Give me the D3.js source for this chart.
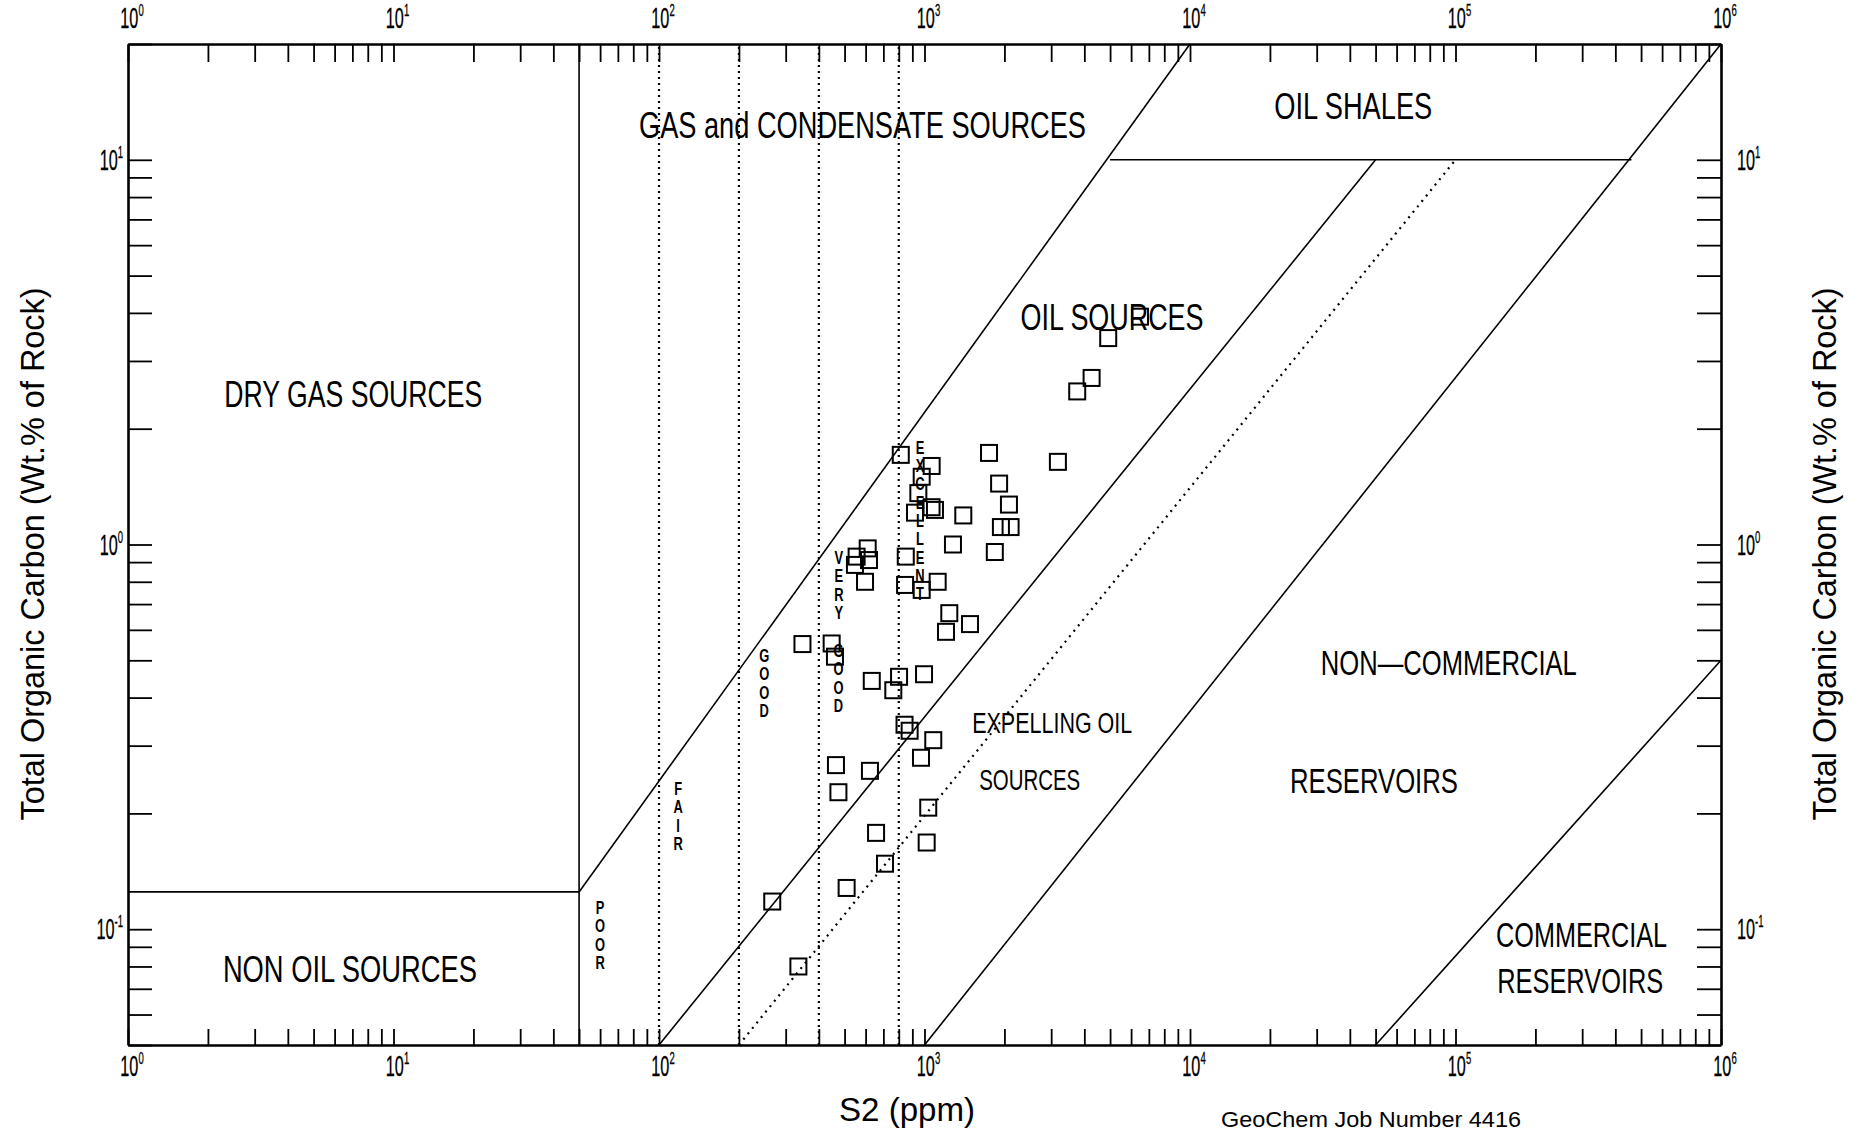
<!DOCTYPE html>
<html>
<head>
<meta charset="utf-8">
<script src="https://cdn.jsdelivr.net/npm/d3@7"></script>
<style>
  html, body { margin: 0; padding: 0; background: #fff; }
  svg { display: block; }
  text { font-family: "Liberation Sans", Arial, sans-serif; fill: #000; }
</style>
</head>
<body>
<svg id="chart" width="1859" height="1136"></svg>
<script>
// ---- Sample data: Rock-Eval S2 (ppm) and total organic carbon (wt.%) ----
const sampleS2 = [6480, 4920, 4260, 3760, 1750, 3180, 1910, 2080, 1400, 1940,
                  2110, 1840, 1280, 814, 1064, 976, 948, 1063, 1095, 921,
                  611, 618, 555, 547, 850, 597, 845, 1121, 976, 1240,
                  1484, 1205, 347, 447, 460, 633, 802, 996, 763, 841,
                  879, 1079, 970, 464, 623, 474, 1033, 657, 1019, 710,
                  509, 267, 335];
const sampleTOC = [3.91, 3.44, 2.71, 2.50, 1.73, 1.64, 1.44, 1.27, 1.19, 1.11,
                   1.11, 0.956, 1.00, 1.71, 1.60, 1.50, 1.36, 1.25, 1.23, 1.21,
                   0.977, 0.911, 0.930, 0.885, 0.930, 0.800, 0.785, 0.800, 0.762, 0.663,
                   0.621, 0.593, 0.551, 0.553, 0.511, 0.442, 0.453, 0.460, 0.418, 0.340,
                   0.328, 0.310, 0.279, 0.267, 0.258, 0.227, 0.207, 0.178, 0.168, 0.148,
                   0.128, 0.118, 0.080];

// ---- Axes ----
const s2Domain = [1, 1e6];
const tocDomain = [0.05, 20];
const s2Decades = [1, 10, 100, 1e3, 1e4, 1e5, 1e6];
const s2DecadeExp = ["0", "1", "2", "3", "4", "5", "6"];
const tocDecades = [0.1, 1, 10];
const tocDecadeExp = ["-1", "0", "1"];

// ---- Interpretive zone boundaries, as [S2, TOC] end points ----
const solidBoundaries = [
  [[50, 0.05], [50, 20]],          // gas / oil source cut-off
  [[1, 0.125], [50, 0.125]],       // dry gas vs non oil sources
  [[50, 0.125], [1e4, 20]],        // upper limit of oil sources
  [[100, 0.05], [5e4, 10]],        // onset of expulsion
  [[1000, 0.05], [1e6, 20]],       // non-commercial reservoirs
  [[5e4, 0.05], [1e6, 0.5]],       // commercial reservoirs
  [[5000, 10], [460000, 10]]       // base of oil shales
];
const dottedBoundaries = [
  [[200, 0.05], [1e5, 10]]
];
// source quality class limits (S2, ppm): poor | fair | good | very good | excellent
const qualityCuts = [100, 200, 400, 800];

// ---- Zone names, anchored at [S2, TOC] (centre, baseline) ----
const zoneNames = ["GAS and CONDENSATE SOURCES", "OIL SHALES", "OIL SOURCES",
                   "DRY GAS SOURCES", "NON OIL SOURCES", "EXPELLING OIL", "SOURCES",
                   "NON\u2014COMMERCIAL", "RESERVOIRS", "COMMERCIAL", "RESERVOIRS"];
const zoneS2 = [584, 41200, 5085, 7.06, 6.85, 3027, 2490, 94400, 49300, 298500, 295000];
const zoneTOC = [11.4, 12.8, 3.62, 2.28, 0.073, 0.324, 0.2307, 0.459, 0.2257, 0.0897, 0.0681];
// type size and set width of each zone name
const zoneFont = [36, 36, 36, 36, 36, 30, 30, 35, 35, 35, 35];
const zoneWidth = [447, 158, 183, 258, 254, 160, 101, 256, 168, 171, 166];

// ---- Quality class words, written vertically; anchor = first letter baseline ----
const qualityWords = ["POOR", "FAIR", "GOOD", "VERY", "GOOD", "EXCELLENT"];
const qualityS2 = [60, 118, 249, 476, 474, 962];
const qualityTOC = [0.1095, 0.2234, 0.495, 0.89, 0.51, 1.72];

// ---- Layout ----
const plot = { left: 128, right: 1721, top: 44, bottom: 1045 };

const svg = d3.select("#chart");
const x = d3.scaleLog().domain(s2Domain).range([plot.left, plot.right]);
const y = d3.scaleLog().domain(tocDomain).range([plot.bottom, plot.top]);

// minor + major tick positions: 1..9 x each decade
function logTicks(lo, hi) {
  const out = [];
  for (let e = Math.floor(Math.log10(lo)); e <= Math.ceil(Math.log10(hi)); e++) {
    for (let k = 1; k <= 9; k++) {
      const v = +(k * Math.pow(10, e)).toPrecision(6);
      if (v >= lo * 0.999 && v <= hi * 1.001) out.push(v);
    }
  }
  return out;
}
const xTicks = logTicks(s2Domain[0], s2Domain[1]);
const yTicks = logTicks(tocDomain[0], tocDomain[1]);

const frameW = 2.6;
function styleAxis(g) {
  g.select(".domain").attr("stroke", "#000").attr("stroke-width", frameW);
  g.selectAll(".tick line").attr("stroke", "#000").attr("stroke-width", 1.8);
  g.selectAll(".tick text").remove();
}

svg.append("g").attr("transform", `translate(0,${plot.bottom})`)
  .call(d3.axisBottom(x).tickValues(xTicks).tickSize(-16).tickSizeOuter(0).tickFormat(""))
  .call(styleAxis);
svg.append("g").attr("transform", `translate(0,${plot.top})`)
  .call(d3.axisTop(x).tickValues(xTicks).tickSize(-18).tickSizeOuter(0).tickFormat(""))
  .call(styleAxis);
svg.append("g").attr("transform", `translate(${plot.left},0)`)
  .call(d3.axisLeft(y).tickValues(yTicks).tickSize(-24).tickSizeOuter(0).tickFormat(""))
  .call(styleAxis);
svg.append("g").attr("transform", `translate(${plot.right},0)`)
  .call(d3.axisRight(y).tickValues(yTicks).tickSize(-24).tickSizeOuter(0).tickFormat(""))
  .call(styleAxis);

// power-of-ten labels
const tickFont = 29, supFont = 17, tickSx = 0.56;
function powerLabel(g, px, py, exp, anchor) {
  const t = g.append("text")
    .attr("transform", `translate(${px},${py}) scale(${tickSx},1)`)
    .attr("text-anchor", anchor)
    .attr("font-size", tickFont)
    .attr("stroke", "#000").attr("stroke-width", 0.3);
  t.append("tspan").text("10");
  t.append("tspan").attr("font-size", supFont).attr("dy", -12).text(exp);
}
const labels = svg.append("g");
s2Decades.forEach((v, i) => {
  powerLabel(labels, x(v) + 4, 28, s2DecadeExp[i], "middle");
  powerLabel(labels, x(v) + 4, 1076, s2DecadeExp[i], "middle");
});
tocDecades.forEach((v, i) => {
  powerLabel(labels, plot.left - 5, y(v) + 10, tocDecadeExp[i], "end");
  powerLabel(labels, plot.right + 16, y(v) + 10, tocDecadeExp[i], "start");
});

// zone boundaries
const line = d3.line().x(d => x(d[0])).y(d => y(d[1]));
const zones = svg.append("g").attr("fill", "none").attr("stroke", "#000");
zones.selectAll("path.solid").data(solidBoundaries).join("path")
  .attr("class", "solid").attr("d", line).attr("stroke-width", 1.6);
zones.selectAll("path.dot").data(dottedBoundaries).join("path")
  .attr("class", "dot").attr("d", line).attr("stroke-width", 2.2)
  .attr("stroke-dasharray", "2 5");
zones.selectAll("path.cut").data(qualityCuts).join("path")
  .attr("class", "cut")
  .attr("d", v => line([[v, tocDomain[0]], [v, tocDomain[1]]]))
  .attr("stroke-width", 2.2).attr("stroke-dasharray", "2 4");

// zone names
svg.append("g").selectAll("text").data(zoneNames).join("text")
  .attr("x", (d, i) => x(zoneS2[i]))
  .attr("y", (d, i) => y(zoneTOC[i]))
  .attr("text-anchor", "middle")
  .attr("font-size", (d, i) => zoneFont[i])
  .attr("textLength", (d, i) => zoneWidth[i])
  .attr("lengthAdjust", "spacingAndGlyphs")
  .text(d => d);

// vertical quality words
const letterStep = 18.3;
const qg = svg.append("g");
qualityWords.forEach((w, i) => {
  const cx = x(qualityS2[i]), by = y(qualityTOC[i]);
  w.split("").forEach((ch, j) => {
    qg.append("text")
      .attr("transform", `translate(${cx},${by + j * letterStep}) scale(0.68,1)`)
      .attr("text-anchor", "middle")
      .attr("font-size", 19)
      .attr("font-weight", "bold")
      .text(ch);
  });
});

// samples
const sq = 16;
svg.append("g").selectAll("rect").data(sampleS2).join("rect")
  .attr("x", d => x(d) - sq / 2)
  .attr("y", (d, i) => y(sampleTOC[i]) - sq / 2)
  .attr("width", sq).attr("height", sq)
  .attr("fill", "none").attr("stroke", "#000").attr("stroke-width", 2);

// axis titles and job reference
svg.append("text")
  .attr("x", 907).attr("y", 1121)
  .attr("text-anchor", "middle").attr("font-size", 34)
  .attr("textLength", 136).attr("lengthAdjust", "spacingAndGlyphs")
  .text("S2 (ppm)");
const yTitle = "Total Organic Carbon (Wt.% of Rock)";
[[44, 554], [1836, 554]].forEach(([px, py]) => {
  svg.append("text")
    .attr("transform", `translate(${px},${py}) rotate(-90)`)
    .attr("text-anchor", "middle").attr("font-size", 33)
    .attr("textLength", 533).attr("lengthAdjust", "spacingAndGlyphs")
    .text(yTitle);
});
svg.append("text")
  .attr("x", 1371).attr("y", 1127)
  .attr("text-anchor", "middle").attr("font-size", 22)
  .attr("textLength", 300).attr("lengthAdjust", "spacingAndGlyphs")
  .text("GeoChem Job Number 4416");
</script>
</body>
</html>
